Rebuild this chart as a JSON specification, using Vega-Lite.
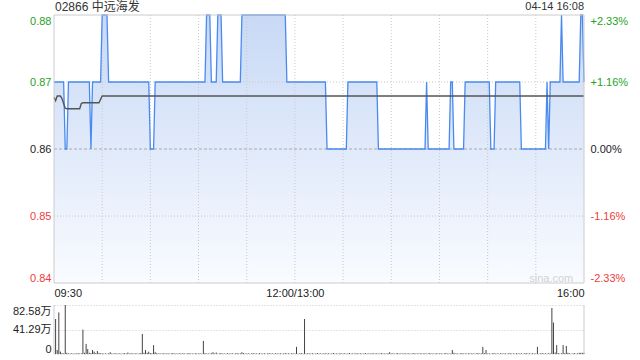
{
  "$schema": "https://vega.github.io/schema/vega-lite/v6.json",
  "width": 530,
  "height": 340,
  "autosize": {"type": "none"},
  "padding": {"left": 54, "top": 15, "right": 56, "bottom": 5},
  "background": "white",
  "config": {
    "view": {"stroke": null},
    "font": "Liberation Sans",
    "axis": {"labelFont": "Liberation Sans", "labelFontSize": 11, "title": null, "ticks": false, "domain": false, "grid": false}
  },
  "data": {"values": [
    {"m":0,"p":0.87,"a":0.8677,"v":0},{"m":1,"p":0.87,"a":0.8672,"v":59},{"m":2,"p":0.87,"a":0.8679,"v":6.7},{"m":3,"p":0.87,"a":0.8679,"v":70},{"m":4,"p":0.87,"a":0.8679,"v":4},{"m":5,"p":0.87,"a":0.8675,"v":1.5},{"m":6,"p":0.87,"a":0.8668,"v":1},{"m":7,"p":0.86,"a":0.8661,"v":82.58},{"m":8,"p":0.86,"a":0.866,"v":2},{"m":9,"p":0.87,"a":0.866,"v":1},
    {"m":10,"p":0.87,"a":0.866,"v":0.8},{"m":11,"p":0.87,"a":0.866,"v":1.2},{"m":12,"p":0.87,"a":0.866,"v":0.6},{"m":13,"p":0.87,"a":0.866,"v":1},{"m":14,"p":0.87,"a":0.866,"v":0.8},{"m":15,"p":0.87,"a":0.866,"v":1.4},{"m":16,"p":0.87,"a":0.866,"v":0.7},{"m":17,"p":0.87,"a":0.8668,"v":1},{"m":18,"p":0.87,"a":0.8669,"v":41},{"m":19,"p":0.87,"a":0.8669,"v":2},
    {"m":20,"p":0.87,"a":0.8669,"v":17},{"m":21,"p":0.87,"a":0.8669,"v":8.4},{"m":22,"p":0.87,"a":0.8669,"v":2},{"m":23,"p":0.86,"a":0.8669,"v":1.5},{"m":24,"p":0.87,"a":0.8669,"v":6.7},{"m":25,"p":0.87,"a":0.8669,"v":4},{"m":26,"p":0.87,"a":0.8669,"v":1.5},{"m":27,"p":0.87,"a":0.8669,"v":5},{"m":28,"p":0.87,"a":0.8669,"v":2},{"m":29,"p":0.87,"a":0.8674,"v":1},
    {"m":30,"p":0.88,"a":0.8679,"v":1.2},{"m":31,"p":0.88,"a":0.8679,"v":0.8},{"m":32,"p":0.88,"a":0.8679,"v":1},{"m":33,"p":0.88,"a":0.8679,"v":0.6},{"m":34,"p":0.87,"a":0.8679,"v":1},{"m":35,"p":0.87,"a":0.8679,"v":3},{"m":36,"p":0.87,"a":0.8679,"v":1},{"m":37,"p":0.87,"a":0.8679,"v":0.6},{"m":38,"p":0.87,"a":0.8679,"v":1.3},{"m":39,"p":0.87,"a":0.8679,"v":0.9},
    {"m":40,"p":0.87,"a":0.8679,"v":0.8},{"m":41,"p":0.87,"a":0.8679,"v":1.2},{"m":42,"p":0.87,"a":0.8679,"v":0.5},{"m":43,"p":0.87,"a":0.8679,"v":1},{"m":44,"p":0.87,"a":0.8679,"v":1.5},{"m":45,"p":0.87,"a":0.8679,"v":0.7},{"m":46,"p":0.87,"a":0.8679,"v":2.5},{"m":47,"p":0.87,"a":0.8679,"v":0.6},{"m":48,"p":0.87,"a":0.8679,"v":1.3},{"m":49,"p":0.87,"a":0.8679,"v":0.9},
    {"m":50,"p":0.87,"a":0.8679,"v":0.8},{"m":51,"p":0.87,"a":0.8679,"v":1.2},{"m":52,"p":0.87,"a":0.8679,"v":0.5},{"m":53,"p":0.87,"a":0.8679,"v":1},{"m":54,"p":0.87,"a":0.8679,"v":1.5},{"m":55,"p":0.87,"a":0.8679,"v":33.7},{"m":56,"p":0.87,"a":0.8679,"v":2},{"m":57,"p":0.87,"a":0.8679,"v":6.7},{"m":58,"p":0.87,"a":0.8679,"v":2},{"m":59,"p":0.87,"a":0.8679,"v":4},
    {"m":60,"p":0.86,"a":0.8679,"v":1.5},{"m":61,"p":0.86,"a":0.8679,"v":1.2},{"m":62,"p":0.86,"a":0.8679,"v":15},{"m":63,"p":0.87,"a":0.8679,"v":3},{"m":64,"p":0.87,"a":0.8679,"v":1.5},{"m":65,"p":0.87,"a":0.8679,"v":0.7},{"m":66,"p":0.87,"a":0.8679,"v":1},{"m":67,"p":0.87,"a":0.8679,"v":0.6},{"m":68,"p":0.87,"a":0.8679,"v":1.3},{"m":69,"p":0.87,"a":0.8679,"v":0.9},
    {"m":70,"p":0.87,"a":0.8679,"v":0.8},{"m":71,"p":0.87,"a":0.8679,"v":1.2},{"m":72,"p":0.87,"a":0.8679,"v":0.5},{"m":73,"p":0.87,"a":0.8679,"v":1},{"m":74,"p":0.87,"a":0.8679,"v":1.5},{"m":75,"p":0.87,"a":0.8679,"v":0.7},{"m":76,"p":0.87,"a":0.8679,"v":1},{"m":77,"p":0.87,"a":0.8679,"v":0.6},{"m":78,"p":0.87,"a":0.8679,"v":1.3},{"m":79,"p":0.87,"a":0.8679,"v":0.9},
    {"m":80,"p":0.87,"a":0.8679,"v":0.8},{"m":81,"p":0.87,"a":0.8679,"v":1.2},{"m":82,"p":0.87,"a":0.8679,"v":0.5},{"m":83,"p":0.87,"a":0.8679,"v":1},{"m":84,"p":0.87,"a":0.8679,"v":1.5},{"m":85,"p":0.87,"a":0.8679,"v":0.7},{"m":86,"p":0.87,"a":0.8679,"v":1},{"m":87,"p":0.87,"a":0.8679,"v":0.6},{"m":88,"p":0.87,"a":0.8679,"v":1.3},{"m":89,"p":0.87,"a":0.8679,"v":0.9},
    {"m":90,"p":0.87,"a":0.8679,"v":0.8},{"m":91,"p":0.87,"a":0.8679,"v":1.2},{"m":92,"p":0.87,"a":0.8679,"v":0.5},{"m":93,"p":0.87,"a":0.8679,"v":22},{"m":94,"p":0.87,"a":0.8679,"v":1.5},{"m":95,"p":0.88,"a":0.8679,"v":0.7},{"m":96,"p":0.88,"a":0.8679,"v":1},{"m":97,"p":0.88,"a":0.8679,"v":0.6},{"m":98,"p":0.87,"a":0.8679,"v":1.3},{"m":99,"p":0.87,"a":0.8679,"v":3},
    {"m":100,"p":0.87,"a":0.8679,"v":0.8},{"m":101,"p":0.87,"a":0.8679,"v":2.5},{"m":102,"p":0.88,"a":0.8679,"v":0.5},{"m":103,"p":0.88,"a":0.8679,"v":1},{"m":104,"p":0.88,"a":0.8679,"v":1.5},{"m":105,"p":0.87,"a":0.8679,"v":0.7},{"m":106,"p":0.87,"a":0.8679,"v":1},{"m":107,"p":0.87,"a":0.8679,"v":0.6},{"m":108,"p":0.87,"a":0.8679,"v":1.3},{"m":109,"p":0.87,"a":0.8679,"v":0.9},
    {"m":110,"p":0.87,"a":0.8679,"v":0.8},{"m":111,"p":0.87,"a":0.8679,"v":1.2},{"m":112,"p":0.87,"a":0.8679,"v":0.5},{"m":113,"p":0.87,"a":0.8679,"v":1},{"m":114,"p":0.87,"a":0.8679,"v":1.5},{"m":115,"p":0.87,"a":0.8679,"v":0.7},{"m":116,"p":0.87,"a":0.8679,"v":1},{"m":117,"p":0.88,"a":0.8679,"v":3},{"m":118,"p":0.88,"a":0.8679,"v":1.3},{"m":119,"p":0.88,"a":0.8679,"v":0.9},
    {"m":120,"p":0.88,"a":0.8679,"v":0.8},{"m":121,"p":0.88,"a":0.8679,"v":1.2},{"m":122,"p":0.88,"a":0.8679,"v":0.5},{"m":123,"p":0.88,"a":0.8679,"v":1},{"m":124,"p":0.88,"a":0.8679,"v":1.5},{"m":125,"p":0.88,"a":0.8679,"v":0.7},{"m":126,"p":0.88,"a":0.8679,"v":1},{"m":127,"p":0.88,"a":0.8679,"v":0.6},{"m":128,"p":0.88,"a":0.8679,"v":1.3},{"m":129,"p":0.88,"a":0.8679,"v":0.9},
    {"m":130,"p":0.88,"a":0.8679,"v":0.8},{"m":131,"p":0.88,"a":0.8679,"v":1.2},{"m":132,"p":0.88,"a":0.8679,"v":0.5},{"m":133,"p":0.88,"a":0.8679,"v":1},{"m":134,"p":0.88,"a":0.8679,"v":1.5},{"m":135,"p":0.88,"a":0.8679,"v":0.7},{"m":136,"p":0.88,"a":0.8679,"v":1},{"m":137,"p":0.88,"a":0.8679,"v":0.6},{"m":138,"p":0.88,"a":0.8679,"v":1.3},{"m":139,"p":0.88,"a":0.8679,"v":0.9},
    {"m":140,"p":0.88,"a":0.8679,"v":0.8},{"m":141,"p":0.88,"a":0.8679,"v":1.2},{"m":142,"p":0.88,"a":0.8679,"v":0.5},{"m":143,"p":0.88,"a":0.8679,"v":1},{"m":144,"p":0.88,"a":0.8679,"v":1.5},{"m":145,"p":0.87,"a":0.8679,"v":0.7},{"m":146,"p":0.87,"a":0.8679,"v":1},{"m":147,"p":0.87,"a":0.8679,"v":0.6},{"m":148,"p":0.87,"a":0.8679,"v":1.3},{"m":149,"p":0.87,"a":0.8679,"v":0.9},
    {"m":150,"p":0.87,"a":0.8679,"v":0.8},{"m":151,"p":0.87,"a":0.8679,"v":12},{"m":152,"p":0.87,"a":0.8679,"v":0.5},{"m":153,"p":0.87,"a":0.8679,"v":1},{"m":154,"p":0.87,"a":0.8679,"v":1.5},{"m":155,"p":0.87,"a":0.8679,"v":0.7},{"m":156,"p":0.87,"a":0.8679,"v":59},{"m":157,"p":0.87,"a":0.8679,"v":0.6},{"m":158,"p":0.87,"a":0.8679,"v":1.3},{"m":159,"p":0.87,"a":0.8679,"v":0.9},
    {"m":160,"p":0.87,"a":0.8679,"v":0.8},{"m":161,"p":0.87,"a":0.8679,"v":1.2},{"m":162,"p":0.87,"a":0.8679,"v":0.5},{"m":163,"p":0.87,"a":0.8679,"v":1},{"m":164,"p":0.87,"a":0.8679,"v":1.5},{"m":165,"p":0.87,"a":0.8679,"v":0.7},{"m":166,"p":0.87,"a":0.8679,"v":1},{"m":167,"p":0.87,"a":0.8679,"v":0.6},{"m":168,"p":0.87,"a":0.8679,"v":1.3},{"m":169,"p":0.87,"a":0.8679,"v":0.9},
    {"m":170,"p":0.86,"a":0.8679,"v":0.8},{"m":171,"p":0.86,"a":0.8679,"v":1.2},{"m":172,"p":0.86,"a":0.8679,"v":0.5},{"m":173,"p":0.86,"a":0.8679,"v":1},{"m":174,"p":0.86,"a":0.8679,"v":1.5},{"m":175,"p":0.86,"a":0.8679,"v":0.7},{"m":176,"p":0.86,"a":0.8679,"v":1},{"m":177,"p":0.86,"a":0.8679,"v":0.6},{"m":178,"p":0.86,"a":0.8679,"v":1.3},{"m":179,"p":0.86,"a":0.8679,"v":0.9},
    {"m":180,"p":0.86,"a":0.8679,"v":0.8},{"m":181,"p":0.86,"a":0.8679,"v":1.2},{"m":182,"p":0.86,"a":0.8679,"v":0.5},{"m":183,"p":0.87,"a":0.8679,"v":1},{"m":184,"p":0.87,"a":0.8679,"v":1.5},{"m":185,"p":0.87,"a":0.8679,"v":0.7},{"m":186,"p":0.87,"a":0.8679,"v":1},{"m":187,"p":0.87,"a":0.8679,"v":0.6},{"m":188,"p":0.87,"a":0.8679,"v":1.3},{"m":189,"p":0.87,"a":0.8679,"v":0.9},
    {"m":190,"p":0.87,"a":0.8679,"v":0.8},{"m":191,"p":0.87,"a":0.8679,"v":1.2},{"m":192,"p":0.87,"a":0.8679,"v":0.5},{"m":193,"p":0.87,"a":0.8679,"v":1},{"m":194,"p":0.87,"a":0.8679,"v":1.5},{"m":195,"p":0.87,"a":0.8679,"v":0.7},{"m":196,"p":0.87,"a":0.8679,"v":1},{"m":197,"p":0.87,"a":0.8679,"v":0.6},{"m":198,"p":0.87,"a":0.8679,"v":1.3},{"m":199,"p":0.87,"a":0.8679,"v":0.9},
    {"m":200,"p":0.87,"a":0.8679,"v":0.8},{"m":201,"p":0.87,"a":0.8679,"v":1.2},{"m":202,"p":0.86,"a":0.8679,"v":0.5},{"m":203,"p":0.86,"a":0.8679,"v":1},{"m":204,"p":0.86,"a":0.8679,"v":1.5},{"m":205,"p":0.86,"a":0.8679,"v":0.7},{"m":206,"p":0.86,"a":0.8679,"v":1},{"m":207,"p":0.86,"a":0.8679,"v":0.6},{"m":208,"p":0.86,"a":0.8679,"v":1.3},{"m":209,"p":0.86,"a":0.8679,"v":3},
    {"m":210,"p":0.86,"a":0.8679,"v":0.8},{"m":211,"p":0.86,"a":0.8679,"v":1.2},{"m":212,"p":0.86,"a":0.8679,"v":0.5},{"m":213,"p":0.86,"a":0.8679,"v":1},{"m":214,"p":0.86,"a":0.8679,"v":1.5},{"m":215,"p":0.86,"a":0.8679,"v":0.7},{"m":216,"p":0.86,"a":0.8679,"v":1},{"m":217,"p":0.86,"a":0.8679,"v":0.6},{"m":218,"p":0.86,"a":0.8679,"v":1.3},{"m":219,"p":0.86,"a":0.8679,"v":0.9},
    {"m":220,"p":0.86,"a":0.8679,"v":0.8},{"m":221,"p":0.86,"a":0.8679,"v":1.2},{"m":222,"p":0.86,"a":0.8679,"v":0.5},{"m":223,"p":0.86,"a":0.8679,"v":1},{"m":224,"p":0.86,"a":0.8679,"v":1.5},{"m":225,"p":0.86,"a":0.8679,"v":0.7},{"m":226,"p":0.86,"a":0.8679,"v":1},{"m":227,"p":0.86,"a":0.8679,"v":0.6},{"m":228,"p":0.86,"a":0.8679,"v":1.3},{"m":229,"p":0.86,"a":0.8679,"v":0.9},
    {"m":230,"p":0.86,"a":0.8679,"v":0.8},{"m":231,"p":0.86,"a":0.8679,"v":1.2},{"m":232,"p":0.87,"a":0.8679,"v":0.5},{"m":233,"p":0.86,"a":0.8679,"v":1},{"m":234,"p":0.86,"a":0.8679,"v":1.5},{"m":235,"p":0.86,"a":0.8679,"v":0.7},{"m":236,"p":0.86,"a":0.8679,"v":1},{"m":237,"p":0.86,"a":0.8679,"v":0.6},{"m":238,"p":0.86,"a":0.8679,"v":1.3},{"m":239,"p":0.86,"a":0.8679,"v":0.9},
    {"m":240,"p":0.86,"a":0.8679,"v":0.8},{"m":241,"p":0.86,"a":0.8679,"v":1.2},{"m":242,"p":0.86,"a":0.8679,"v":0.5},{"m":243,"p":0.86,"a":0.8679,"v":1},{"m":244,"p":0.86,"a":0.8679,"v":1.5},{"m":245,"p":0.86,"a":0.8679,"v":0.7},{"m":246,"p":0.86,"a":0.8679,"v":1},{"m":247,"p":0.87,"a":0.8679,"v":0.6},{"m":248,"p":0.87,"a":0.8679,"v":6.7},{"m":249,"p":0.86,"a":0.8679,"v":2},
    {"m":250,"p":0.86,"a":0.8679,"v":0.8},{"m":251,"p":0.86,"a":0.8679,"v":1.2},{"m":252,"p":0.86,"a":0.8679,"v":0.5},{"m":253,"p":0.86,"a":0.8679,"v":1},{"m":254,"p":0.86,"a":0.8679,"v":1.5},{"m":255,"p":0.86,"a":0.8679,"v":0.7},{"m":256,"p":0.87,"a":0.8679,"v":1},{"m":257,"p":0.87,"a":0.8679,"v":0.6},{"m":258,"p":0.87,"a":0.8679,"v":1.3},{"m":259,"p":0.87,"a":0.8679,"v":0.9},
    {"m":260,"p":0.87,"a":0.8679,"v":0.8},{"m":261,"p":0.87,"a":0.8679,"v":1.2},{"m":262,"p":0.87,"a":0.8679,"v":0.5},{"m":263,"p":0.87,"a":0.8679,"v":1},{"m":264,"p":0.87,"a":0.8679,"v":1.5},{"m":265,"p":0.87,"a":0.8679,"v":0.7},{"m":266,"p":0.87,"a":0.8679,"v":1},{"m":267,"p":0.87,"a":0.8679,"v":12},{"m":268,"p":0.87,"a":0.8679,"v":1.3},{"m":269,"p":0.87,"a":0.8679,"v":6.7},
    {"m":270,"p":0.87,"a":0.8679,"v":0.8},{"m":271,"p":0.87,"a":0.8679,"v":1.2},{"m":272,"p":0.86,"a":0.8679,"v":0.5},{"m":273,"p":0.86,"a":0.8679,"v":1},{"m":274,"p":0.86,"a":0.8679,"v":1.5},{"m":275,"p":0.87,"a":0.8679,"v":0.7},{"m":276,"p":0.87,"a":0.8679,"v":1},{"m":277,"p":0.87,"a":0.8679,"v":0.6},{"m":278,"p":0.87,"a":0.8679,"v":1.3},{"m":279,"p":0.87,"a":0.8679,"v":0.9},
    {"m":280,"p":0.87,"a":0.8679,"v":0.8},{"m":281,"p":0.87,"a":0.8679,"v":1.2},{"m":282,"p":0.87,"a":0.8679,"v":0.5},{"m":283,"p":0.87,"a":0.8679,"v":1},{"m":284,"p":0.87,"a":0.8679,"v":1.5},{"m":285,"p":0.87,"a":0.8679,"v":0.7},{"m":286,"p":0.87,"a":0.8679,"v":1},{"m":287,"p":0.87,"a":0.8679,"v":0.6},{"m":288,"p":0.87,"a":0.8679,"v":1.3},{"m":289,"p":0.87,"a":0.8679,"v":0.9},
    {"m":290,"p":0.87,"a":0.8679,"v":0.8},{"m":291,"p":0.86,"a":0.8679,"v":1.2},{"m":292,"p":0.86,"a":0.8679,"v":0.5},{"m":293,"p":0.86,"a":0.8679,"v":1},{"m":294,"p":0.86,"a":0.8679,"v":1.5},{"m":295,"p":0.86,"a":0.8679,"v":0.7},{"m":296,"p":0.86,"a":0.8679,"v":1},{"m":297,"p":0.86,"a":0.8679,"v":0.6},{"m":298,"p":0.86,"a":0.8679,"v":1.3},{"m":299,"p":0.86,"a":0.8679,"v":0.9},
    {"m":300,"p":0.86,"a":0.8679,"v":0.8},{"m":301,"p":0.86,"a":0.8679,"v":12},{"m":302,"p":0.86,"a":0.8679,"v":0.5},{"m":303,"p":0.86,"a":0.8679,"v":1},{"m":304,"p":0.86,"a":0.8679,"v":1.5},{"m":305,"p":0.86,"a":0.8679,"v":0.7},{"m":306,"p":0.86,"a":0.8679,"v":1},{"m":307,"p":0.87,"a":0.8679,"v":0.6},{"m":308,"p":0.86,"a":0.8679,"v":1.3},{"m":309,"p":0.87,"a":0.8679,"v":0.9},
    {"m":310,"p":0.87,"a":0.8679,"v":77.5},{"m":311,"p":0.87,"a":0.8679,"v":53},{"m":312,"p":0.87,"a":0.8679,"v":2.5},{"m":313,"p":0.87,"a":0.8679,"v":15},{"m":314,"p":0.87,"a":0.8679,"v":1.5},{"m":315,"p":0.87,"a":0.8679,"v":0.7},{"m":316,"p":0.88,"a":0.8679,"v":1},{"m":317,"p":0.87,"a":0.8679,"v":15},{"m":318,"p":0.87,"a":0.8679,"v":1.3},{"m":319,"p":0.87,"a":0.8679,"v":13.5},
    {"m":320,"p":0.87,"a":0.8679,"v":2},{"m":321,"p":0.87,"a":0.8679,"v":1.2},{"m":322,"p":0.87,"a":0.8679,"v":0.5},{"m":323,"p":0.87,"a":0.8679,"v":1},{"m":324,"p":0.87,"a":0.8679,"v":1.5},{"m":325,"p":0.87,"a":0.8679,"v":0.7},{"m":326,"p":0.87,"a":0.8679,"v":1},{"m":327,"p":0.87,"a":0.8679,"v":2},{"m":328,"p":0.88,"a":0.8679,"v":2},{"m":329,"p":0.88,"a":0.8679,"v":2},
    {"m":330,"p":0.87,"a":0.8679,"v":2}
  ]},
  "resolve": {"scale": {"y": "independent"}, "axis": {"y": "independent"}},
  "layer": [
    {
      "layer": [
        {
          "mark": {"type": "area", "interpolate": "linear", "color": {"gradient": "linear", "x1": 0, "y1": 0, "x2": 0, "y2": 1, "stops": [{"offset": 0, "color": "#c8d9f5"}, {"offset": 1, "color": "#f9fbff"}]}},
          "encoding": {
            "x": {"field": "m", "type": "quantitative", "scale": {"domain": [0, 330], "nice": false, "zero": false},
                  "axis": {"orient": "bottom", "offset": -72, "values": [0, 150, 330], "labelExpr": "datum.value == 0 ? '09:30' : datum.value == 150 ? '12:00/13:00' : '16:00'", "labelFlush": true, "labelPadding": 4, "labelColor": "#222222", "grid": false, "domain": false, "ticks": false, "title": null}},
            "y": {"field": "p", "type": "quantitative", "scale": {"domain": [0.84, 0.88], "range": [268, 0], "nice": false, "zero": false},
                  "axis": {"orient": "left", "values": [0.84, 0.85, 0.86, 0.87, 0.88], "format": ".2f", "labelFlush": true, "labelPadding": 3, "grid": false, "domain": false, "ticks": false, "title": null,
                           "labelColor": {"condition": [{"test": "datum.value > 0.8605", "value": "#1fa31f"}, {"test": "datum.value < 0.8595", "value": "#f03c3c"}], "value": "#222222"}}},
            "y2": {"datum": 0.84}
          }
        },
        {
          "data": {"values": [{"t": 30}, {"t": 60}, {"t": 90}, {"t": 120}, {"t": 150}, {"t": 180}, {"t": 210}, {"t": 240}, {"t": 270}, {"t": 300}]},
          "mark": {"type": "rule", "color": "#c8c8c8", "strokeDash": [1, 2], "strokeWidth": 1},
          "encoding": {"x": {"field": "t", "type": "quantitative"}, "y": {"datum": 0.84}, "y2": {"datum": 0.88}}
        },
        {
          "data": {"values": [{"g": 0.85}, {"g": 0.87}]},
          "mark": {"type": "rule", "color": "#c8c8c8", "strokeDash": [1, 2], "strokeWidth": 1},
          "encoding": {"y": {"field": "g", "type": "quantitative"}, "x": {"datum": 0}, "x2": {"datum": 330}}
        },
        {
          "data": {"values": [{"g": 0.86}]},
          "mark": {"type": "rule", "color": "#aaaaaa", "strokeDash": [3, 2], "strokeWidth": 1},
          "encoding": {"y": {"field": "g", "type": "quantitative"}, "x": {"datum": 0}, "x2": {"datum": 330}}
        },
        {
          "mark": {"type": "line", "color": "#4a8af0", "strokeWidth": 1.3, "interpolate": "linear"},
          "encoding": {"x": {"field": "m", "type": "quantitative"}, "y": {"field": "p", "type": "quantitative"}}
        },
        {
          "mark": {"type": "line", "color": "#555555", "strokeWidth": 1.4, "interpolate": "linear"},
          "encoding": {"x": {"field": "m", "type": "quantitative"}, "y": {"field": "a", "type": "quantitative"}}
        },
        {
          "data": {"values": [{}]},
          "mark": {"type": "rect", "fillOpacity": 0, "stroke": "#cccccc", "strokeWidth": 1},
          "encoding": {"x": {"datum": 0}, "x2": {"datum": 330}, "y": {"datum": 0.84}, "y2": {"datum": 0.88}}
        },
        {
          "data": {"values": [{"label": "02866 中远海发"}]},
          "mark": {"type": "text", "align": "left", "baseline": "middle", "dx": 1, "dy": -8, "fontSize": 12, "font": "Liberation Sans, Noto Sans CJK SC", "color": "#333333"},
          "encoding": {"x": {"datum": 0}, "y": {"datum": 0.88}, "text": {"field": "label"}}
        },
        {
          "data": {"values": [{"label": "04-14 16:08"}]},
          "mark": {"type": "text", "align": "right", "baseline": "middle", "dy": -8, "fontSize": 11, "color": "#333333"},
          "encoding": {"x": {"datum": 330}, "y": {"datum": 0.88}, "text": {"field": "label"}}
        },
        {
          "data": {"values": [{"label": "sina.com"}]},
          "mark": {"type": "text", "align": "right", "baseline": "middle", "fontSize": 11, "color": "#d2d2d2"},
          "encoding": {"x": {"datum": 323.3}, "y": {"datum": 0.8406}, "text": {"field": "label"}}
        }
      ]
    },
    {
      "data": {"values": [{}]},
      "mark": {"type": "point", "opacity": 0},
      "encoding": {
        "y": {"datum": 0.86, "type": "quantitative", "scale": {"domain": [0.84, 0.88], "range": [268, 0], "nice": false, "zero": false},
              "axis": {"orient": "right", "values": [0.84, 0.85, 0.86, 0.87, 0.88], "labelFlush": true, "labelPadding": 6, "grid": false, "domain": false, "ticks": false, "title": null,
                       "labelExpr": "datum.value > 0.8605 ? '+' + format((datum.value - 0.86) / 0.86 * 100, '.2f') + '%' : datum.value < 0.8595 ? '-' + format((0.86 - datum.value) / 0.86 * 100, '.2f') + '%' : '0.00%'",
                       "labelColor": {"condition": [{"test": "datum.value > 0.8605", "value": "#1fa31f"}, {"test": "datum.value < 0.8595", "value": "#f03c3c"}], "value": "#222222"}}}
      }
    },
    {
      "layer": [
        {
          "mark": {"type": "rule", "color": "#444444", "strokeWidth": 1},
          "encoding": {
            "x": {"field": "m", "type": "quantitative"},
            "y": {"field": "v", "type": "quantitative", "scale": {"domain": [0, 82.58], "range": [339, 290], "nice": false, "zero": true},
                  "axis": {"orient": "left", "values": [0, 41.29, 82.58], "labelExpr": "datum.value == 0 ? '0' : format(datum.value, '.2f') + '万'", "labelFont": "Liberation Sans, Noto Sans CJK SC", "labelFlush": true, "labelPadding": 3, "labelColor": "#222222", "grid": true, "gridColor": "#c8c8c8", "gridDash": [1, 2], "domain": false, "ticks": false, "title": null}},
            "y2": {"datum": 0}
          }
        },
        {
          "data": {"values": [{}]},
          "mark": {"type": "rule", "color": "#cccccc", "strokeWidth": 1},
          "encoding": {"x": {"datum": 0}, "y": {"datum": 0}, "y2": {"datum": 82.58}}
        },
        {
          "data": {"values": [{}]},
          "mark": {"type": "rule", "color": "#cccccc", "strokeWidth": 1},
          "encoding": {"x": {"datum": 330}, "y": {"datum": 0}, "y2": {"datum": 82.58}}
        }
      ]
    }
  ]
}
